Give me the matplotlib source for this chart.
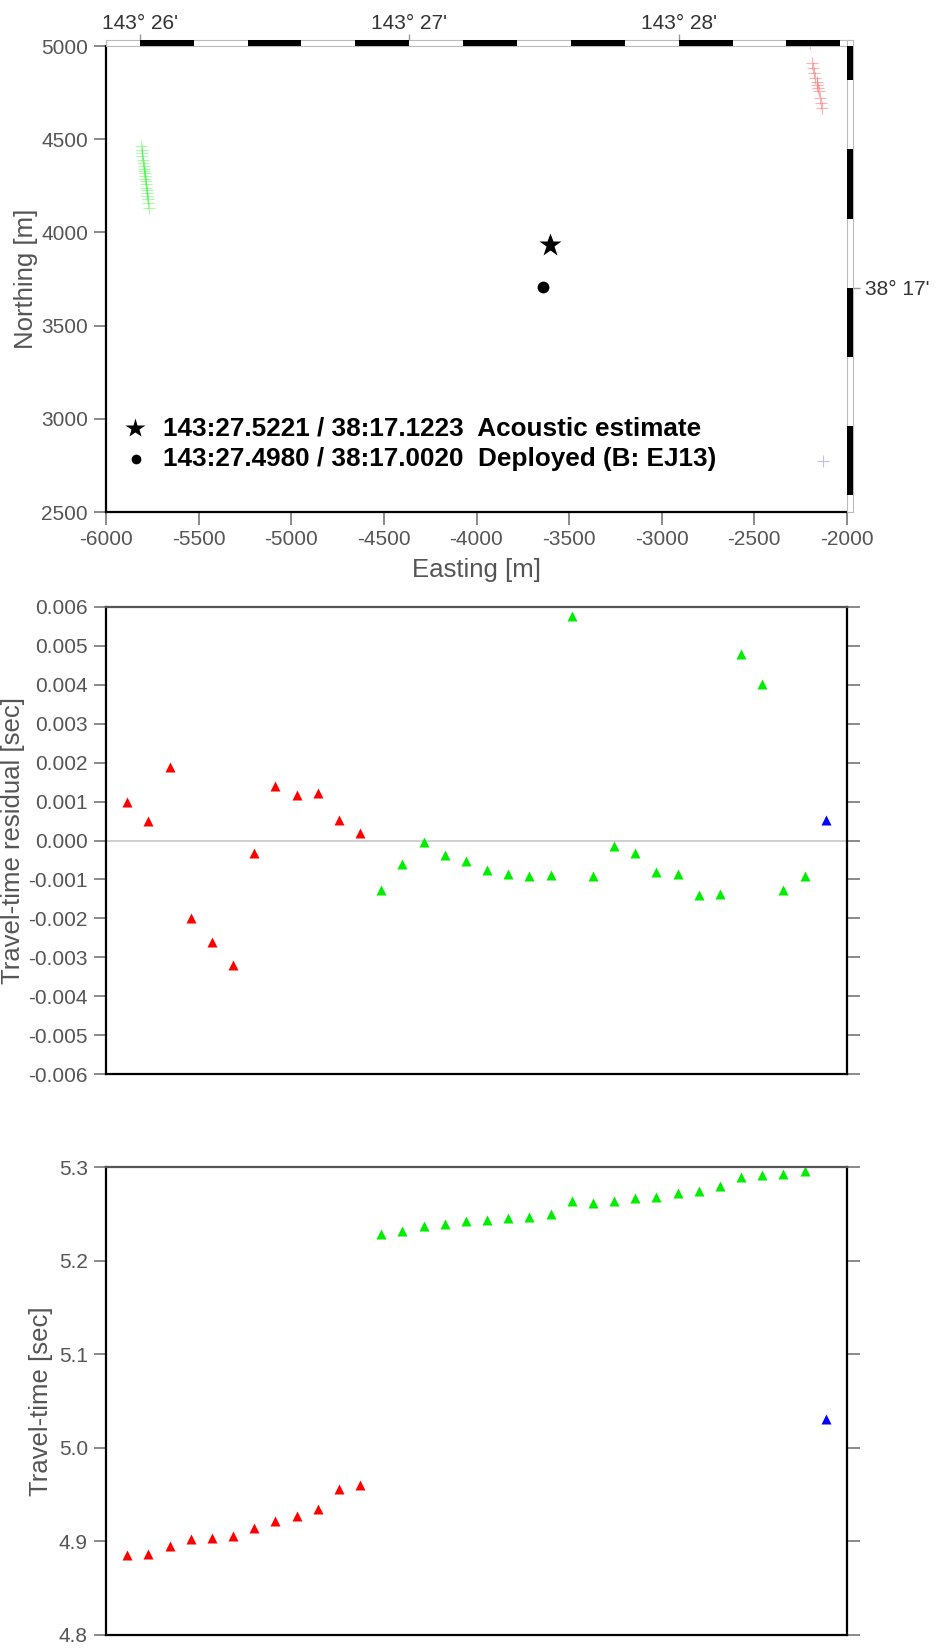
import numpy as np
import matplotlib.pyplot as plt
from matplotlib.patches import Rectangle

plt.rcParams['font.family'] = ['Liberation Sans', 'DejaVu Sans']
plt.rcParams['axes.unicode_minus'] = False

# Local grid: origin at 143:30E / 38:15N, metres east / north
LON0_MIN = 30.0
LAT0_MIN = 15.0
M_LAT = 1852.0
M_LON = 1852.0 * np.cos(np.radians(38.25))

def lon2e(m):
    return (np.asarray(m) - LON0_MIN) * M_LON

def e2lon(e):
    return np.asarray(e) / M_LON + LON0_MIN

def lat2n(m):
    return (np.asarray(m) - LAT0_MIN) * M_LAT

def n2lat(n):
    return np.asarray(n) / M_LAT + LAT0_MIN

def minutes(s):
    return float(s.split(':')[1])

# Station positions
acoustic = ("143:27.5221", "38:17.1223")
deployed = ("143:27.4980", "38:17.0020")
site_name = "B: EJ13"

# Ship positions of the shots (easting, northing in m)
red_e = [-2200, -2187, -2182, -2176, -2171, -2163, -2160, -2155, -2149, -2146, -2141, -2137]
red_n = [5014, 4908, 4881, 4854, 4827, 4809, 4792, 4774, 4756, 4721, 4694, 4667]
green_e = [-5768, -5771, -5774, -5776, -5778, -5780, -5782, -5784, -5786, -5788, -5790,
           -5792, -5794, -5795, -5797, -5799, -5802, -5804, -5806, -5808, -5811]
green_n = [4133, 4156, 4177, 4195, 4213, 4227, 4240, 4257, 4274, 4288, 4302,
           4316, 4329, 4341, 4355, 4373, 4391, 4409, 4427, 4441, 4462]
blue_e = [-2130]
blue_n = [2775]

# Travel-time residuals [sec]
red_res = [0.00099, 0.00050, 0.00188, -0.00200, -0.00261, -0.00321,
           -0.00031, 0.00141, 0.00118, 0.00123, 0.00052, 0.00018]
green_res = [-0.00127, -0.00060, -0.00005, -0.00036, -0.00053, -0.00075, -0.00086,
             -0.00090, -0.00089, 0.00576, -0.00090, -0.00015, -0.00033, -0.00081,
             -0.00086, -0.00139, -0.00137, 0.00480, 0.00402, -0.00127, -0.00091]
blue_res = [0.00053]

# Travel-times [sec]
red_tt = [4.885, 4.887, 4.895, 4.903, 4.904, 4.906, 4.914, 4.922, 4.927, 4.935, 4.956, 4.960]
green_tt = [5.228, 5.232, 5.237, 5.239, 5.242, 5.243, 5.245, 5.247, 5.250, 5.264, 5.262,
            5.264, 5.267, 5.268, 5.272, 5.274, 5.280, 5.289, 5.291, 5.293, 5.296]
blue_tt = [5.031]

red_i = np.arange(1, len(red_res) + 1)
green_i = np.arange(len(red_res) + 1, len(red_res) + len(green_res) + 1)
blue_i = np.arange(green_i[-1] + 1, green_i[-1] + 1 + len(blue_res))

W, H = 936, 1650
fig = plt.figure(figsize=(W / 100, H / 100), dpi=100)

def box(l, t, r, b):
    return [l / W, 1 - b / H, (r - l) / W, (b - t) / H]

TICKC = '#777777'
LABC = '#555555'
TFS = 15
LFS = 18.5
MS = 7.5

def style(ax):
    ax.tick_params(direction='out', length=9, width=1.2, color=TICKC,
                   labelsize=TFS, labelcolor=LABC, pad=4)
    for s in ax.spines.values():
        s.set_linewidth(1.6)
        s.set_color('black')

# ---- map panel ----
ax1 = fig.add_axes(box(106, 46, 847, 512))
style(ax1)
ax1.set_xlim(-6000, -2000)
ax1.set_ylim(2500, 5000)
ax1.set_xticks(np.arange(-6000, -1999, 500))
ax1.set_yticks(np.arange(2500, 5001, 500))
ax1.spines['top'].set_visible(False)
ax1.spines['right'].set_visible(False)

ax1.plot(red_e, red_n, '+', color='#ff5050', ms=8, mew=0.8, alpha=0.45)
ax1.plot(green_e, green_n, '+', color='#30f030', ms=8, mew=0.8, alpha=0.4)
ax1.plot(blue_e, blue_n, '+', color='#7070ff', ms=8, mew=0.8, alpha=0.45)

ae, an = lon2e(minutes(acoustic[0])), lat2n(minutes(acoustic[1]))
de, dn = lon2e(minutes(deployed[0])), lat2n(minutes(deployed[1]))
ax1.plot(ae, an, '*', color='black', ms=17, mec='none')
ax1.plot(de, dn, 'o', color='black', ms=8.5, mec='none')

ax1.plot(0.039, 0.180, '*', color='black', ms=15, mec='none', transform=ax1.transAxes)
ax1.plot(0.040, 0.114, 'o', color='black', ms=7, mec='none', transform=ax1.transAxes)
ax1.text(0.077, 0.180, f"{acoustic[0]} / {acoustic[1]}  Acoustic estimate",
         transform=ax1.transAxes, fontsize=18.8, fontweight='bold', va='center')
ax1.text(0.077, 0.114, f"{deployed[0]} / {deployed[1]}  Deployed ({site_name})",
         transform=ax1.transAxes, fontsize=18.8, fontweight='bold', va='center')

ax1.text(0.5, -0.124, 'Easting [m]', transform=ax1.transAxes, fontsize=LFS,
         color=LABC, ha='center', va='center')
ax1.text(-0.108, 0.5, 'Northing [m]', transform=ax1.transAxes, fontsize=LFS,
         color=LABC, ha='center', va='center', rotation=90)

# geographic frame: alternating bands every 0.2'
hb = 6 / 466
wb = 6 / 741
xt = ax1.get_xaxis_transform()
yt = ax1.get_yaxis_transform()
ax1.add_patch(Rectangle((-6000, 1.0), 4000 + 6 / 0.18525, hb, transform=xt, facecolor='white',
                        edgecolor='#bbbbbb', lw=0.8, clip_on=False, zorder=5))
ax1.add_patch(Rectangle((1.0, 2500), wb, 2500 + 6 / 0.1864, transform=yt, facecolor='white',
                        edgecolor='#bbbbbb', lw=0.8, clip_on=False, zorder=5))
for k in range(8):
    x0 = max(float(lon2e(26.0 + 0.4 * k)), -6000)
    x1 = min(float(lon2e(26.2 + 0.4 * k)), -2000)
    if x1 > x0:
        ax1.add_patch(Rectangle((x0, 1.0 + 0.08 * hb), x1 - x0, 0.84 * hb, transform=xt,
                                facecolor='black', lw=0, clip_on=False, zorder=6))
for k in range(6):
    y0 = max(float(lat2n(16.0 + 0.4 * k)), 2500)
    y1 = min(float(lat2n(16.2 + 0.4 * k)), 5000)
    if y1 > y0:
        ax1.add_patch(Rectangle((1.0 + 0.08 * wb, y0), 0.84 * wb, y1 - y0, transform=yt,
                                facecolor='black', lw=0, clip_on=False, zorder=6))

top = ax1.secondary_xaxis('top', functions=(e2lon, lon2e))
top.set_xticks([26, 27, 28])
top.set_xticklabels([f"143° {v}'" for v in (26, 27, 28)])
top.tick_params(direction='out', length=9, width=1, color='#999999',
                labelsize=TFS, labelcolor='#333333', pad=0)
right = ax1.secondary_yaxis('right', functions=(n2lat, lat2n))
right.set_yticks([17])
right.set_yticklabels(["38° 17'"])
right.tick_params(direction='out', length=9, width=1, color='#999999',
                  labelsize=TFS, labelcolor='#333333', pad=4)
for a in (top, right):
    for s in a.spines.values():
        s.set_visible(False)

# ---- residual panel ----
ax2 = fig.add_axes(box(106, 607, 847, 1074))
style(ax2)
ax2.set_xlim(0, 35)
ax2.set_ylim(-0.006, 0.006)
ax2.set_yticks(np.arange(-0.006, 0.0061, 0.001))
ax2.yaxis.set_major_formatter(plt.FormatStrFormatter('%.3f'))
ax2.set_xticks([])
ax2.tick_params(axis='y', right=True)
ax2.spines['top'].set_color('#555555')
ax2.axhline(0, color='#cccccc', lw=1.3, zorder=0)
ax2.plot(red_i, red_res, '^', color='#ff0000', ms=MS, mec='none')
ax2.plot(green_i, green_res, '^', color='#00ee00', ms=MS, mec='none')
ax2.plot(blue_i, blue_res, '^', color='#0000ff', ms=MS, mec='none')
ax2.text(-0.1255, 0.5, 'Travel-time residual [sec]', transform=ax2.transAxes,
         fontsize=LFS, color=LABC, ha='center', va='center', rotation=90)

# ---- travel-time panel ----
ax3 = fig.add_axes(box(106, 1167, 847, 1635))
style(ax3)
ax3.set_xlim(0, 35)
ax3.set_ylim(4.8, 5.3)
ax3.set_yticks(np.arange(4.8, 5.31, 0.1))
ax3.yaxis.set_major_formatter(plt.FormatStrFormatter('%.1f'))
ax3.set_xticks([])
ax3.tick_params(axis='y', right=True)
ax3.spines['top'].set_color('#555555')
ax3.plot(red_i, red_tt, '^', color='#ff0000', ms=MS, mec='none', clip_on=False)
ax3.plot(green_i, green_tt, '^', color='#00ee00', ms=MS, mec='none', clip_on=False)
ax3.plot(blue_i, blue_tt, '^', color='#0000ff', ms=MS, mec='none', clip_on=False)
ax3.text(-0.0877, 0.5, 'Travel-time [sec]', transform=ax3.transAxes,
         fontsize=LFS, color=LABC, ha='center', va='center', rotation=90)

fig.savefig('out.png', dpi=100)
